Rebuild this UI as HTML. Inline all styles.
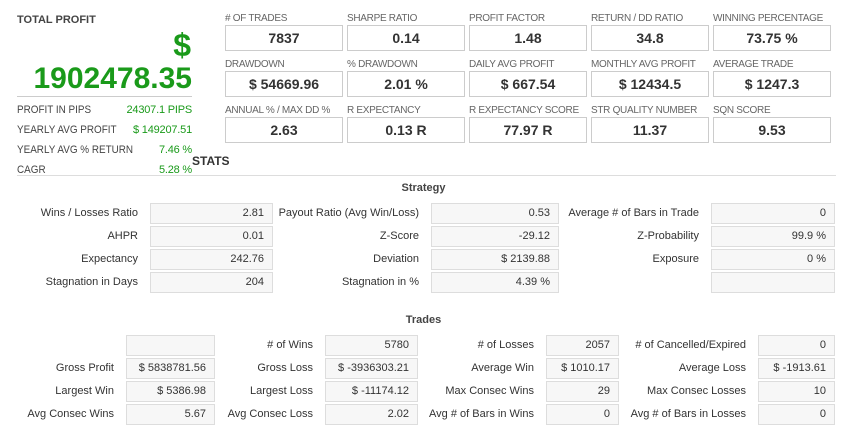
<!DOCTYPE html>
<html><head><meta charset="utf-8"><style>
body{margin:0;width:847px;height:436px;background:#fff;font-family:"Liberation Sans",Arial,sans-serif;color:#333;position:relative;overflow:hidden}
div{position:absolute;box-sizing:border-box;white-space:nowrap}
.tl{font-size:10px;color:#666;line-height:12px;letter-spacing:-0.3px}
.tb{border:1px solid #ccc;height:26px;width:118px;text-align:center;font-weight:bold;font-size:14px;line-height:24px;color:#333}
.g{color:#1a9a1a}
.ll{font-size:11px;color:#444;left:17px;line-height:14px;transform:scaleX(0.9);transform-origin:0 0}
.lv{font-size:11px;right:655px;line-height:14px;color:#1a9a1a;letter-spacing:-0.2px}
.lb{font-size:11px;color:#333;text-align:right;line-height:20px}
.bx{background:#f7f7f7;border:1px solid #ddd;height:21px;font-size:11px;text-align:right;padding-right:8px;line-height:19px;color:#333}
</style></head><body>
<div style="left:17px;top:14px;font-size:11px;font-weight:bold;color:#444">TOTAL PROFIT</div>
<div class="g" style="right:656px;top:28px;font-size:32px;font-weight:bold;line-height:34px">$</div>
<div class="g" style="right:655px;top:62px;font-size:30px;font-weight:bold;line-height:34px">1902478.35</div>
<div style="left:17px;top:96px;width:175px;height:1px;background:#ccc"></div>
<div class="ll" style="top:103px">PROFIT IN PIPS</div><div class="lv" style="top:103px">24307.1 PIPS</div>
<div class="ll" style="top:123px">YEARLY AVG PROFIT</div><div class="lv" style="top:123px">$ 149207.51</div>
<div class="ll" style="top:143px">YEARLY AVG % RETURN</div><div class="lv" style="top:143px">7.46 %</div>
<div class="ll" style="top:163px">CAGR</div><div class="lv" style="top:163px">5.28 %</div>
<div style="left:192px;top:154px;font-size:12px;font-weight:bold;color:#333">STATS</div>
<div style="left:17px;top:175px;width:819px;height:1px;background:#ddd"></div>

<div class="tl" style="left:225px;top:13px">#&nbsp;OF TRADES</div><div class="tb" style="left:225px;top:25px">7837</div>
<div class="tl" style="left:347px;top:13px">SHARPE RATIO</div><div class="tb" style="left:347px;top:25px">0.14</div>
<div class="tl" style="left:469px;top:13px">PROFIT FACTOR</div><div class="tb" style="left:469px;top:25px">1.48</div>
<div class="tl" style="left:591px;top:13px">RETURN / DD RATIO</div><div class="tb" style="left:591px;top:25px">34.8</div>
<div class="tl" style="left:713px;top:13px">WINNING PERCENTAGE</div><div class="tb" style="left:713px;top:25px">73.75 %</div>

<div class="tl" style="left:225px;top:59px">DRAWDOWN</div><div class="tb" style="left:225px;top:71px">$ 54669.96</div>
<div class="tl" style="left:347px;top:59px">% DRAWDOWN</div><div class="tb" style="left:347px;top:71px">2.01 %</div>
<div class="tl" style="left:469px;top:59px">DAILY AVG PROFIT</div><div class="tb" style="left:469px;top:71px">$ 667.54</div>
<div class="tl" style="left:591px;top:59px">MONTHLY AVG PROFIT</div><div class="tb" style="left:591px;top:71px">$ 12434.5</div>
<div class="tl" style="left:713px;top:59px">AVERAGE TRADE</div><div class="tb" style="left:713px;top:71px">$ 1247.3</div>

<div class="tl" style="left:225px;top:105px">ANNUAL % / MAX DD %</div><div class="tb" style="left:225px;top:117px">2.63</div>
<div class="tl" style="left:347px;top:105px">R EXPECTANCY</div><div class="tb" style="left:347px;top:117px">0.13 R</div>
<div class="tl" style="left:469px;top:105px">R EXPECTANCY SCORE</div><div class="tb" style="left:469px;top:117px">77.97 R</div>
<div class="tl" style="left:591px;top:105px">STR QUALITY NUMBER</div><div class="tb" style="left:591px;top:117px">11.37</div>
<div class="tl" style="left:713px;top:105px">SQN SCORE</div><div class="tb" style="left:713px;top:117px">9.53</div>

<div style="left:0;width:847px;top:182px;text-align:center;font-size:11px;font-weight:bold;color:#444">Strategy</div>

<div class="lb" style="right:709px;top:203px">Wins / Losses Ratio</div><div class="bx" style="left:150px;top:203px;width:123px">2.81</div>
<div class="lb" style="right:428px;top:203px">Payout Ratio (Avg Win/Loss)</div><div class="bx" style="left:431px;top:203px;width:128px">0.53</div>
<div class="lb" style="right:148px;top:203px">Average # of Bars in Trade</div><div class="bx" style="left:711px;top:203px;width:124px">0</div>
<div class="lb" style="right:709px;top:226px">AHPR</div><div class="bx" style="left:150px;top:226px;width:123px">0.01</div>
<div class="lb" style="right:428px;top:226px">Z-Score</div><div class="bx" style="left:431px;top:226px;width:128px">-29.12</div>
<div class="lb" style="right:148px;top:226px">Z-Probability</div><div class="bx" style="left:711px;top:226px;width:124px">99.9 %</div>
<div class="lb" style="right:709px;top:249px">Expectancy</div><div class="bx" style="left:150px;top:249px;width:123px">242.76</div>
<div class="lb" style="right:428px;top:249px">Deviation</div><div class="bx" style="left:431px;top:249px;width:128px">$ 2139.88</div>
<div class="lb" style="right:148px;top:249px">Exposure</div><div class="bx" style="left:711px;top:249px;width:124px">0 %</div>
<div class="lb" style="right:709px;top:272px">Stagnation in Days</div><div class="bx" style="left:150px;top:272px;width:123px">204</div>
<div class="lb" style="right:428px;top:272px">Stagnation in %</div><div class="bx" style="left:431px;top:272px;width:128px">4.39 %</div>
<div class="bx" style="left:711px;top:272px;width:124px"></div>

<div style="left:0;width:847px;top:314px;text-align:center;font-size:11px;font-weight:bold;color:#444">Trades</div>

<div class="bx" style="left:126px;top:335px;width:89px"></div>
<div class="lb" style="right:534px;top:335px"># of Wins</div><div class="bx" style="left:325px;top:335px;width:93px">5780</div>
<div class="lb" style="right:313px;top:335px"># of Losses</div><div class="bx" style="left:546px;top:335px;width:73px">2057</div>
<div class="lb" style="right:101px;top:335px"># of Cancelled/Expired</div><div class="bx" style="left:758px;top:335px;width:77px">0</div>

<div class="lb" style="right:733px;top:358px">Gross Profit</div><div class="bx" style="left:126px;top:358px;width:89px">$ 5838781.56</div>
<div class="lb" style="right:534px;top:358px">Gross Loss</div><div class="bx" style="left:325px;top:358px;width:93px">$ -3936303.21</div>
<div class="lb" style="right:313px;top:358px">Average Win</div><div class="bx" style="left:546px;top:358px;width:73px">$ 1010.17</div>
<div class="lb" style="right:101px;top:358px">Average Loss</div><div class="bx" style="left:758px;top:358px;width:77px">$ -1913.61</div>

<div class="lb" style="right:733px;top:381px">Largest Win</div><div class="bx" style="left:126px;top:381px;width:89px">$ 5386.98</div>
<div class="lb" style="right:534px;top:381px">Largest Loss</div><div class="bx" style="left:325px;top:381px;width:93px">$ -11174.12</div>
<div class="lb" style="right:313px;top:381px">Max Consec Wins</div><div class="bx" style="left:546px;top:381px;width:73px">29</div>
<div class="lb" style="right:101px;top:381px">Max Consec Losses</div><div class="bx" style="left:758px;top:381px;width:77px">10</div>

<div class="lb" style="right:733px;top:404px">Avg Consec Wins</div><div class="bx" style="left:126px;top:404px;width:89px">5.67</div>
<div class="lb" style="right:534px;top:404px">Avg Consec Loss</div><div class="bx" style="left:325px;top:404px;width:93px">2.02</div>
<div class="lb" style="right:313px;top:404px">Avg # of Bars in Wins</div><div class="bx" style="left:546px;top:404px;width:73px">0</div>
<div class="lb" style="right:101px;top:404px">Avg # of Bars in Losses</div><div class="bx" style="left:758px;top:404px;width:77px">0</div>
</body></html>
